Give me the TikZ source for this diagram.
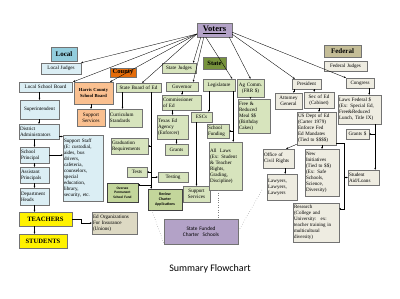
\documentclass[tikz,border=0pt]{standalone}
\usepackage{fontspec}
\setmainfont{Liberation Serif}
\newfontfamily\carlito{Carlito}
\usetikzlibrary{shadows,arrows.meta,calc}
\definecolor{lhdr}{HTML}{93CDDD}
\definecolor{lblue}{HTML}{DBEEF4}
\definecolor{chdr}{HTML}{E46C0A}
\definecolor{orng}{HTML}{FAC090}
\definecolor{sgreen}{HTML}{D7E4BD}
\definecolor{shdr}{HTML}{77933C}
\definecolor{dgreen}{HTML}{C3D69B}
\definecolor{fhdr}{HTML}{C4BD97}
\definecolor{fbox}{HTML}{EEECE1}
\definecolor{edorg}{HTML}{DDD9C3}
\definecolor{purp}{HTML}{B3A2C7}
\newcommand\mybox[7]{%
  \pgfmathsetmacro\bw{#5-#3}\pgfmathsetmacro\bh{#6-#4}%
  \pgfmathsetmacro\bcx{(#3+#5)/2}\pgfmathsetmacro\bcy{(#4+#6)/2}%
  \pgfmathsetmacro\btw{#5-#3-2}%
  \node[box,#2,minimum width=\bw pt,minimum height=\bh pt,text width=\btw pt] (#1) at (\bcx,\bcy) {#7};}
\tikzset{
  box/.style={draw=black!55, line width=0.4pt, inner xsep=1pt, inner ysep=0.3pt,
    align=center, font=\fontsize{5.1}{6}\selectfont,
    drop shadow={shadow xshift=0.7pt, shadow yshift=-0.7pt, opacity=0.3, fill=black}},
  L/.style={align=left},
  hdr/.style={font=\bfseries\fontsize{7}{8}\selectfont},
  lb/.style={fill=lblue}, sg/.style={fill=sgreen}, fb/.style={fill=fbox},
  conn/.style={draw=black, line width=0.35pt, -{Stealth[length=2pt,width=1.8pt]}},
  dotl/.style={draw=black!50, dotted, line width=0.45pt},
}
\begin{document}
\begin{tikzpicture}[x=1pt,y=-1pt]
\fill[white] (0,0) rectangle (400,298);
\useasboundingbox (0,0) rectangle (400,298);
% ---- top
\mybox{Voters}{fill=purp,font=\bfseries\fontsize{8.5}{10}\selectfont}{197}{23}{232}{37}{\underline{Voters}}
% ---- local
\mybox{Local}{fill=lhdr,hdr}{51}{47}{77}{61}{Local}
\mybox{LocalJudges}{lb}{41}{63}{81}{74}{Local Judges}
\mybox{LSB}{lb}{19}{82}{72}{92}{Local School Board}
\mybox{Super}{lb}{20}{100}{59}{119}{Superintendent}
\mybox{DistAdmin}{lb,L}{19}{124}{59}{139}{District\\Administrators}
\mybox{Principal}{lb,L}{20}{147}{49}{163}{School\\Principal}
\mybox{AsstP}{lb,L}{20}{167}{49}{183}{Assistant\\Principals}
\mybox{DeptHeads}{lb,L}{20}{188}{49}{205}{Department\\Heads}
\mybox{SupportStaff}{lb,L}{63}{135}{103}{201}{Support Staff\\(E: custodial,\\aides, bus\\drivers,\\cafeteria,\\counselors,\\special\\education,\\library,\\security, etc.}
\mybox{Teachers}{fill=yellow,font=\bfseries\fontsize{6.6}{8}\selectfont}{19}{212}{72}{226}{TEACHERS}
\mybox{Students}{fill=yellow,font=\bfseries\fontsize{6.6}{8}\selectfont}{19}{234}{67}{248}{STUDENTS}
\mybox{EdOrg}{fill=edorg,L}{92}{212}{137}{234}{Ed Organizations\\For Insurance\\(Unions)}
% ---- county
\mybox{County}{fill=chdr,font=\bfseries\fontsize{6.5}{7.5}\selectfont}{110}{68}{136}{77}{County}
\mybox{Harris}{fill=orng,font=\bfseries\fontsize{4.6}{6}\selectfont}{74}{82}{113}{104}{Harris County\\School Board}
\mybox{SupportServO}{fill=orng}{77}{109}{105}{126}{Support\\Services}
% ---- state
\mybox{State}{fill=shdr,font=\bfseries\fontsize{6.5}{7.5}\selectfont}{203}{57}{226}{69}{State}
\mybox{StateJudges}{sg}{162}{63}{196}{73}{State Judges}
\mybox{SBOE}{sg}{116}{83}{161}{92}{State Board of Ed}
\mybox{CurrStd}{sg,L}{109}{109}{142}{127}{Curriculum\\Standards}
\mybox{GradReq}{sg,L}{111}{138}{148}{154}{Graduation\\Requirements}
\mybox{Tests}{sg}{127}{167}{147}{177}{Tests}
\mybox{Testing}{sg}{158}{172}{188}{182}{Testing}
\mybox{Oversee}{fill=dgreen,draw=black!75,font=\carlito\bfseries\fontsize{3.5}{4.6}\selectfont}{107}{183}{138}{202}{Oversee\\Permanent\\School Fund}
\mybox{Review}{fill=dgreen,draw=black!75,font=\carlito\bfseries\fontsize{3.9}{5.2}\selectfont}{148}{189}{182}{210}{Review\\Charter\\Applications}
\mybox{SupportServG}{sg}{183}{186}{210}{202}{Support\\Services}
\mybox{Governor}{sg}{166}{82}{198}{91}{Governor}
\mybox{Commissioner}{sg,L}{162}{95}{201}{110}{Commissioner\\of Ed}
\mybox{TEA}{sg,L}{157}{115}{188}{139}{Texas Ed\\Agency\\(Enforcer)}
\mybox{Grants}{sg}{165}{144}{188}{155}{Grants}
\mybox{ESCs}{sg}{191}{112}{212}{122}{ESCs}
\mybox{Legislature}{sg}{203}{79}{235}{91}{Legislature}
\mybox{SchoolFund}{sg,L}{207}{124}{229}{138}{School\\Funding}
\mybox{AllLaws}{sg,L}{209}{142}{242}{190}{All \ Laws\\(Ex: Student\\\& Teacher\\Rights,\\Grading,\\Discipline)}
\mybox{AgComm}{sg}{237}{79}{264}{97}{Ag Comm.\\(FRR \$)}
\mybox{FreeRed}{sg,L}{238}{99}{270}{133}{Free \&\\Reduced\\Meal \$\$\\(Birthday\\Cakes)}
\mybox{Charter}{fill=purp,font=\carlito\fontsize{5.3}{6.6}\selectfont}{164}{219}{238}{244}{State Funded\\Charter \ Schools}
% ---- federal
\mybox{Federal}{fill=fhdr,hdr}{324}{45}{361}{57}{Federal}
\mybox{FedJudges}{fb}{324}{61}{367}{71}{Federal Judges}
\mybox{President}{fb}{292}{79}{321}{89}{President}
\mybox{Congress}{fb}{346}{78}{374}{88}{Congress}
\mybox{AG}{fb}{275}{93}{302}{109}{Attorney\\General}
\mybox{SecEd}{fb}{304}{92}{334}{108}{Sec of Ed\\(Cabinet)}
\mybox{LawsFed}{fb,L}{338}{95}{381}{124}{Laws Federal \$\\(Ex: Special Ed,\\Free\&Reduced\\Lunch, Title IX)}
\mybox{USDept}{fb,L}{297}{112}{336}{145}{US Dept of Ed\\(Carter 1979)\\Enforce Fed\\Ed Mandates\\(Tied to \$\$\$\$)}
\mybox{GrantsF}{fb}{346}{129}{369}{139}{Grants \$}
\mybox{OCR}{fb,L}{263}{149}{294}{168}{Office of\\Civil Rights}
\mybox{NewInit}{fb,L}{305}{149}{339}{196}{New\\Initiatives\\(Tied to \$\$)\\(Ex: Safe\\Schools,\\Science,\\Diversity)}
\mybox{Lawyers}{fb,L}{267}{174}{297}{200}{Lawyers,\\Lawyers,\\Lawyers}
\mybox{StudentAid}{fb,L}{348}{170}{379}{185}{Student\\Aid/Loans}
\mybox{Research}{fb,L,font=\fontsize{5}{6.1}\selectfont}{293}{203}{339}{242}{Research\\(College and\\University: \ ex:\\teacher training in\\multicultural\\diversity)}
% ---- title
\node[font=\carlito\fontsize{10}{12}\selectfont] (title) at (210,269) {Summary Flowchart};
% ---- voters connectors
\coordinate (vl) at ([yshift=-4pt]Voters.west);
\draw[conn] (vl) -- (LocalJudges.north east);
\draw[conn] (vl) -- ([xshift=1pt]LSB.north east);
\draw[conn] (vl) -- ([xshift=-3pt]Harris.north east);
\draw[conn] (vl) -- ([xshift=-19pt]SBOE.north east);
\draw[conn] ([xshift=4pt]Voters.south west) -- ([xshift=-3pt]StateJudges.north east);
\draw[conn] ([xshift=7pt]Voters.south west) -- ([xshift=-5pt]Governor.north east);
\draw[conn] ([xshift=9pt]Voters.south west) -- ([xshift=-3pt]Legislature.north east);
\draw[conn] ([xshift=-3pt]Voters.south east) -- (AgComm.north);
\draw[conn] ([yshift=3pt]Voters.south east) -- ([xshift=3pt]President.north west);
\draw[conn] ([yshift=5pt]Voters.south east) -- (Congress.north west);
% ---- local connectors
\draw[conn] (LSB.south -| Super.north) -- (Super.north);
\draw[conn] (Super.south -| DistAdmin.north) -- (DistAdmin.north);
\draw[conn] (DistAdmin.south -| Principal.north) -- (Principal.north);
\draw[conn] (Principal.south) -- (AsstP.north);
\draw[conn] (AsstP.south) -- (DeptHeads.north);
\draw[conn] (DeptHeads.south) -- (DeptHeads.south |- Teachers.north);
\draw[conn] (Teachers.south -| DeptHeads.south) -- (DeptHeads.south |- Students.north);
\coordinate (da) at ([yshift=-5pt]DistAdmin.east);
\draw[conn] (da) -- (da -| SupportStaff.west);
\draw[conn] (Principal.east) -- (Principal.east -| SupportStaff.west);
\draw[conn] (Teachers.east) -- ++(9,0) |- (EdOrg.west);
\draw[conn] (Harris.south -| SupportServO.north) -- (SupportServO.north);
% ---- state connectors
\coordinate (cs) at ([xshift=-3pt]CurrStd.north);
\draw[conn] (SBOE.south -| cs) -- (cs);
\coordinate (sb) at ([xshift=-10pt]SBOE.south east);
\draw[conn] (sb) |- (GradReq.east);
\draw[conn] (sb) |- (Tests.east);
\draw[conn] (sb) |- (Testing.west);
\draw[conn] (sb) |- ([yshift=-2pt]Oversee.north east);
\draw[conn] (sb) -- (sb |- Review.north);
\draw[conn] (Governor.south) -- (Governor.south |- Commissioner.north);
\draw[conn] (Commissioner.south -| TEA.north) -- (TEA.north);
\draw[conn] (TEA.south -| Grants.north) -- (Grants.north);
\draw[conn] (ESCs.south -| SupportServG.north) -- (SupportServG.north);
\coordinate (le) at ([xshift=6pt]Legislature.south west);
\draw[conn] (le) -- (le |- ESCs.north);
\coordinate (lg) at ([xshift=-2pt]Legislature.south east);
\draw[conn] (lg) -- (lg |- AllLaws.north);
\draw[conn] (lg) |- (SchoolFund.east);
\draw[conn] (AgComm.south) -- (AgComm.south |- FreeRed.north);
% ---- federal connectors
\coordinate (pa) at ([xshift=2pt]President.south west);
\draw[conn] (pa) -- (pa |- AG.north);
\coordinate (ps) at ([xshift=-7pt]President.south east);
\draw[conn] (ps) -- (ps |- SecEd.north);
\draw[conn] (SecEd.south) -- (SecEd.south |- USDept.north);
\draw[conn] ([yshift=1pt]USDept.south west) -- ([xshift=-8pt]OCR.north east);
\coordinate (oc) at ([xshift=-9pt]OCR.south east);
\draw[conn] (oc) -- (oc |- Lawyers.north);
\draw[conn] (USDept.south -| NewInit.north) -- (NewInit.north);
\coordinate (ud) at ([yshift=2pt]USDept.south east);
\draw[conn] (ud) -- ++(8,0) |- ([yshift=-6pt]Research.north east);
\draw[conn] (ud) -- ++(8,0) |- (StudentAid.west);
\coordinate (cg) at ([xshift=-5pt]Congress.south east);
\draw[conn] (cg) -- (cg |- LawsFed.north);
\coordinate (lf) at ([xshift=-6pt]LawsFed.south east);
\draw[conn] (lf) -- (lf |- StudentAid.north);
\draw[conn] (lf) |- (GrantsF.east);
% ---- dotted funnel
\coordinate (dr) at (262,190);
\draw[dotl] ([xshift=4pt]Review.south west) -- ([yshift=1pt]Charter.south west);
\coordinate (al) at ([xshift=9pt]AllLaws.south west);
\draw[dotl] (al) -- (al |- Charter.north);
\draw[dotl] (dr) -- (Charter.east);
\end{tikzpicture}
\end{document}
